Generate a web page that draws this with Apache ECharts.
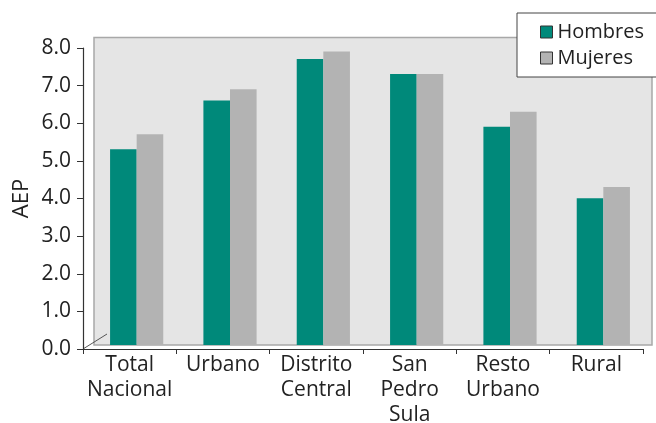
<!DOCTYPE html>
<html>
<head>
<meta charset="utf-8">
<script src="https://cdn.jsdelivr.net/npm/echarts@6/dist/echarts.min.js"></script>
<style>html,body{margin:0;padding:0;background:#fff}#c{width:656px;height:423px}</style>
</head>
<body>
<div id="c"></div>
<script>
var categories = ['Total\nNacional', 'Urbano', 'Distrito\nCentral', 'San\nPedro\nSula', 'Resto\nUrbano', 'Rural'];
var hombres = [5.2, 6.5, 7.6, 7.2, 5.8, 3.9];
var mujeres = [5.6, 6.8, 7.8, 7.2, 6.2, 4.2];
var seriesNames = ['Hombres', 'Mujeres'];
var yTicks = [0, 1, 2, 3, 4, 5, 6, 7, 8];

var FONT = '"Open Sans", sans-serif';
var chart = echarts.init(document.getElementById('c'), null, {renderer: 'canvas'});
chart.setOption({
  animation: false,
  backgroundColor: '#ffffff',
  textStyle: {fontFamily: FONT},
  graphic: [
    {type: 'rect', z: 0, shape: {x: 94, y: 37.5, width: 558, height: 307.5},
     style: {fill: '#e5e5e5', stroke: '#a8a8a8', lineWidth: 1.5}},
    {type: 'line', z: 0, shape: {x1: 83, y1: 349, x2: 107, y2: 334},
     style: {stroke: '#555', lineWidth: 1}},
    {type: 'rect', z: 10, shape: {x: 517, y: 13, width: 150, height: 64},
     style: {fill: '#ffffff', stroke: '#444', lineWidth: 1}}
  ],
  legend: {
    data: seriesNames,
    orient: 'vertical',
    left: 535, top: 17,
    z: 11,
    itemWidth: 12, itemHeight: 12, itemGap: 6,
    icon: 'rect',
    itemStyle: {borderColor: '#333', borderWidth: 1},
    textStyle: {fontSize: 20, color: '#222', fontFamily: FONT, padding: [0, 0, 0, 0]}
  },
  grid: [
    {left: 90, right: 6, top: 44, bottom: 78, containLabel: false, outerBoundsMode: 'none'},
    {left: 83, right: 13, top: 48, bottom: 74, containLabel: false, outerBoundsMode: 'none'}
  ],
  xAxis: [
    {type: 'category', gridIndex: 0, data: categories, show: false},
    {type: 'category', gridIndex: 1, data: categories,
     axisLine: {lineStyle: {color: '#333', width: 1.2}},
     axisTick: {show: true, alignWithLabel: false, length: 5, lineStyle: {color: '#333'}},
     axisLabel: {interval: 0, fontSize: 21, color: '#222', lineHeight: 25, margin: 4, fontFamily: FONT}}
  ],
  yAxis: [
    {type: 'value', gridIndex: 0, min: 0, max: 8, interval: 1, show: false, splitLine: {show: false}},
    {type: 'value', gridIndex: 1, min: yTicks[0], max: yTicks[yTicks.length - 1], interval: 1,
     name: 'AEP', nameLocation: 'middle', nameGap: 50, nameRotate: 90, nameMoveOverlap: false,
     nameTextStyle: {fontSize: 22, color: '#222', fontFamily: FONT},
     axisLine: {show: true, lineStyle: {color: '#333', width: 1.2}},
     axisTick: {show: true, length: 6, lineStyle: {color: '#333'}},
     splitLine: {show: false},
     axisLabel: {fontSize: 21, color: '#222', margin: 12, fontFamily: FONT,
       formatter: function (v) { return v.toFixed(1); }}}
  ],
  series: [
    {name: seriesNames[0], type: 'bar', xAxisIndex: 0, yAxisIndex: 0, data: hombres,
     barGap: '0%', barCategoryGap: '43%', z: 3,
     itemStyle: {color: '#00897a', borderWidth: 0}},
    {name: seriesNames[1], type: 'bar', xAxisIndex: 0, yAxisIndex: 0, data: mujeres,
     barGap: '0%', barCategoryGap: '43%', z: 3,
     itemStyle: {color: '#b3b3b3', borderWidth: 0}}
  ]
});
</script>
</body>
</html>
